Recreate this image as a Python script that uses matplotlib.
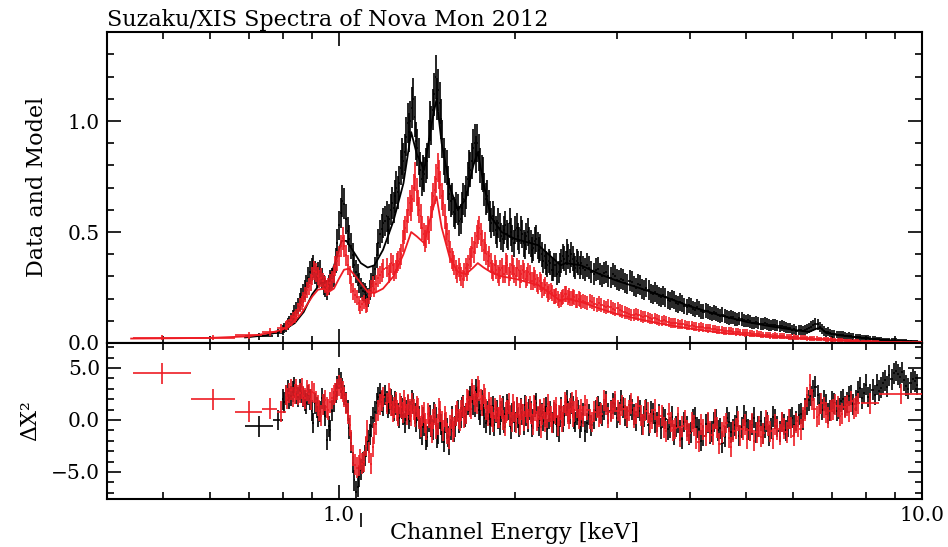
import numpy as np
import matplotlib
matplotlib.use('Agg')
import matplotlib.pyplot as plt

# ---------------- data ----------------
# XIS (black) : low-energy wide bins
fi_lo_e = [0.73, 0.785]
fi_lo_w = [0.04, 0.015]
fi_lo_y = [0.030, 0.045]
fi_lo_r = [-0.6, 0.0]

# XIS (black) spectrum: values at even / odd bins of each energy segment
fi_seg_a = [0.060, 0.072, 0.095, 0.118, 0.150, 0.185, 0.225, 0.262, 0.318, 0.345,
            0.298, 0.322, 0.262, 0.238, 0.282, 0.302, 0.452, 0.585, 0.628, 0.505,
            0.438, 0.352, 0.305, 0.248, 0.228, 0.205, 0.268, 0.335, 0.452, 0.515]
fi_seg_a2 = [0.068, 0.085, 0.104, 0.136, 0.165, 0.208, 0.240, 0.295, 0.330, 0.318,
             0.315, 0.290, 0.250, 0.262, 0.288, 0.372, 0.530, 0.640, 0.560, 0.470,
             0.395, 0.322, 0.270, 0.232, 0.215, 0.238, 0.300, 0.395, 0.490, 0.540]
fi_seg_b = [0.55, 0.51, 0.60, 0.61, 0.70, 0.72, 0.84, 0.86, 0.99, 1.00,
            1.10, 0.91, 0.84, 0.74, 0.76, 0.82, 1.00, 1.05, 1.20, 1.14,
            1.01, 0.84, 0.79, 0.67, 0.65, 0.58, 0.60, 0.56, 0.65, 0.68,
            0.79, 0.82, 0.90, 0.90, 0.80, 0.76, 0.65, 0.62, 0.54, 0.55,
            0.49, 0.52, 0.47, 0.53, 0.48, 0.50, 0.45, 0.52, 0.46, 0.49,
            0.44, 0.50, 0.45, 0.43, 0.47, 0.42, 0.40, 0.39, 0.35, 0.36,
            0.33, 0.35, 0.32, 0.37, 0.38, 0.41, 0.37, 0.38, 0.34, 0.36]
fi_seg_b2 = [0.57, 0.56, 0.63, 0.66, 0.68, 0.79, 0.82, 0.93, 0.95, 1.06,
             1.02, 0.88, 0.78, 0.77, 0.80, 0.92, 0.98, 1.12, 1.10, 1.08,
             0.92, 0.80, 0.72, 0.64, 0.59, 0.61, 0.55, 0.61, 0.64, 0.74,
             0.78, 0.88, 0.85, 0.86, 0.77, 0.69, 0.66, 0.57, 0.57, 0.51,
             0.54, 0.48, 0.51, 0.49, 0.54, 0.47, 0.51, 0.48, 0.51, 0.45,
             0.48, 0.46, 0.42, 0.46, 0.44, 0.43, 0.37, 0.36, 0.37, 0.33,
             0.35, 0.31, 0.35, 0.39, 0.36, 0.39, 0.40, 0.35, 0.37, 0.34]
fi_seg_c = [0.36, 0.33, 0.34, 0.31, 0.335, 0.30, 0.32, 0.295, 0.30, 0.28,
            0.285, 0.265, 0.275, 0.25, 0.26, 0.24, 0.24, 0.22, 0.22, 0.205,
            0.205, 0.19, 0.195, 0.175, 0.18, 0.16, 0.165, 0.15, 0.152, 0.14,
            0.142, 0.13, 0.134, 0.122, 0.123, 0.112, 0.115, 0.105, 0.108, 0.099,
            0.097, 0.09, 0.092, 0.085, 0.086, 0.08, 0.081, 0.075, 0.074, 0.068,
            0.060, 0.056, 0.058, 0.060, 0.068, 0.080, 0.084, 0.062, 0.048, 0.045,
            0.040, 0.036, 0.035, 0.031, 0.030, 0.026, 0.025, 0.022, 0.021, 0.018,
            0.016, 0.015, 0.013, 0.012, 0.011, 0.010, 0.009, 0.008, 0.007, 0.006]
fi_seg_c2 = [0.34, 0.35, 0.32, 0.33, 0.31, 0.315, 0.30, 0.31, 0.285, 0.29,
             0.27, 0.28, 0.255, 0.265, 0.245, 0.25, 0.225, 0.23, 0.21, 0.215,
             0.195, 0.20, 0.18, 0.185, 0.168, 0.172, 0.155, 0.16, 0.143, 0.146,
             0.135, 0.138, 0.126, 0.128, 0.116, 0.118, 0.108, 0.111, 0.102, 0.103,
             0.092, 0.094, 0.087, 0.089, 0.082, 0.083, 0.077, 0.078, 0.071, 0.066,
             0.062, 0.059, 0.055, 0.064, 0.074, 0.086, 0.072, 0.054, 0.050, 0.042,
             0.038, 0.037, 0.033, 0.032, 0.028, 0.027, 0.023, 0.023, 0.019, 0.018,
             0.016, 0.014, 0.013, 0.011, 0.011, 0.009, 0.009, 0.007, 0.0065, 0.0055]

# XIS (black) residuals
fi_res_a = [2.0, 2.4, 2.1, 2.7, 2.5, 2.9, 2.2, 1.6, 2.0, -0.3,
            1.2, 0.8, 1.5, -1.9, -1.0, 1.8, 3.2, 3.6, 2.4, 0.9,
            -2.2, -5.8, -6.4, -4.8, -3.4, -2.0, -0.6, 0.8, 2.2, 1.8]
fi_res_a2 = [1.7, 2.8, 2.3, 3.1, 2.2, 2.6, 1.9, 2.4, 0.9, 1.6,
             0.3, 2.1, 0.4, -0.6, 0.9, 2.6, 4.0, 3.0, 1.7, -0.8,
             -4.1, -6.9, -5.4, -4.1, -2.6, -1.4, 0.2, 1.6, 2.6, 1.4]
fi_res_b = [2.4, 1.2, 2.0, 0.9, 1.5, 0.2, 1.1, -0.3, 1.4, 0.8,
            1.6, -0.2, 0.3, -1.4, -0.5, -1.6, 0.4, -0.9, 0.2, -1.3,
            -0.4, -2.1, -0.8, -2.4, 0.3, -0.6, 0.9, 0.2, 1.4, 0.6,
            1.8, 2.6, 1.3, 2.2, 0.5, 1.4, -0.3, 1.0, 0.4, -0.5,
            0.9, -0.4, 1.3, 0.2, 1.0, -0.8, 0.7, 1.2, -0.6, 0.5,
            1.4, -0.2, 0.8, 0.1, 1.6, -0.5, 0.6, 0.3, -0.9, 0.8,
            -0.3, 0.5, -1.1, 1.2, 0.4, 1.9, 0.6, 1.3, -0.2, 0.9]
fi_res_b2 = [1.8, 1.6, 1.4, 1.8, 0.6, 1.3, 0.5, 0.9, 0.1, 1.9,
             0.6, 0.9, -0.8, 0.2, -1.9, -0.2, -0.6, 0.7, -1.7, 0.1,
             -1.2, -0.3, -1.6, -0.9, -1.1, 0.4, -0.3, 1.2, 0.3, 1.5,
             2.3, 1.5, 2.9, 1.0, 1.9, 0.2, 0.8, -0.4, 1.3, 0.7,
             0.1, 0.8, -0.3, 1.5, 0.3, 0.6, -0.2, 0.2, 1.1, -0.4,
             0.4, 1.0, -0.6, 1.3, 0.2, 0.9, -0.1, 1.2, 0.1, -0.2,
             0.7, -0.6, 0.3, -0.2, 1.4, 0.8, 1.6, 0.1, 0.5, -0.7]
fi_res_c = [-0.2, -1.1, 0.5, 0.1, 1.3, 0.4, 1.8, 0.9, 1.5, 0.7,
            1.2, 0.2, 1.0, -0.1, 0.9, 0.3, -0.5, 0.6, -0.2, -0.8,
            0.1, -0.7, -1.4, -0.3, -1.8, -0.6, -1.2, 0.2, -0.9, -1.5,
            -0.3, -1.1, 0.1, -0.8, -1.6, -0.2, -0.9, 0.3, -0.7, -0.1,
            -1.0, 0.2, -0.6, -1.3, -0.2, -0.8, 0.1, -1.1, -0.4, -0.6,
            0.2, -0.1, 0.6, 1.1, 1.9, 2.8, 2.4, 1.0, 1.5, 0.9,
            1.6, 1.1, 2.0, 1.7, 2.4, 1.9, 3.1, 2.6, 2.2, 2.9,
            3.4, 3.1, 3.8, 4.3, 4.5, 4.4, 4.6, 3.3, 3.6, 3.7]
fi_res_c2 = [0.6, -0.3, -0.5, 0.9, 0.7, 1.0, 0.6, 1.6, 0.2, 1.9,
             0.4, 1.4, 0.5, 1.2, -0.4, 1.0, 0.8, -0.3, 0.5, 0.2,
             -0.9, 0.3, -0.6, -1.0, -0.2, -1.4, 0.1, -0.7, -2.0, -0.4,
             -1.3, -0.2, -1.0, -2.2, 0.2, -1.2, -0.5, -1.5, 0.4, -0.9,
             -0.4, -1.2, -0.1, -0.7, -1.5, 0.3, -0.6, -0.2, -1.0, 0.1,
             -0.5, 0.5, 0.0, 1.5, 2.3, 3.2, 1.6, 1.9, 0.6, 1.8,
             0.9, 1.8, 1.3, 2.3, 1.5, 2.7, 2.1, 3.4, 2.5, 2.4,
             2.8, 3.6, 3.2, 3.9, 4.7, 4.1, 3.8, 3.0, 3.9, 3.4]

# XIS (red) : low- and high-energy wide bins (edges in keV)
bi_lo_edges_lo = [0.443, 0.557, 0.663, 0.738, 0.783]
bi_lo_edges_hi = [0.557, 0.663, 0.738, 0.783, 0.810]
bi_lo_y = [0.024, 0.024, 0.034, 0.050, 0.066]
bi_lo_r = [4.5, 2.0, 0.8, 1.1, 0.8]
bi_hi_edges_lo = [7.85, 8.45]
bi_hi_edges_hi = [8.45, 10.0]
bi_hi_y = [0.0075, 0.004]
bi_hi_r = [1.6, 2.5]

bi_seg_a = [0.078, 0.088, 0.115, 0.128, 0.172, 0.195, 0.238, 0.272, 0.325, 0.302,
            0.295, 0.262, 0.255, 0.285, 0.348, 0.392, 0.472, 0.395, 0.305, 0.232,
            0.205, 0.162, 0.185, 0.172, 0.245, 0.242, 0.295, 0.318]
bi_seg_a2 = [0.082, 0.102, 0.118, 0.152, 0.180, 0.218, 0.255, 0.302, 0.318, 0.288,
             0.278, 0.248, 0.272, 0.310, 0.368, 0.438, 0.435, 0.350, 0.262, 0.215,
             0.178, 0.175, 0.168, 0.210, 0.262, 0.268, 0.305, 0.335]
bi_seg_b = [0.34, 0.32, 0.35, 0.33, 0.37, 0.40, 0.50, 0.55, 0.63, 0.65,
            0.75, 0.63, 0.57, 0.49, 0.48, 0.50, 0.62, 0.69, 0.79, 0.71,
            0.63, 0.52, 0.46, 0.38, 0.35, 0.31, 0.32, 0.29, 0.34, 0.35,
            0.39, 0.41, 0.48, 0.52, 0.46, 0.45, 0.37, 0.36, 0.32, 0.33,
            0.30, 0.34, 0.31, 0.35, 0.32, 0.34, 0.30, 0.33, 0.31, 0.32,
            0.30, 0.31, 0.28, 0.29, 0.26, 0.27, 0.25, 0.24, 0.23, 0.225,
            0.21, 0.20, 0.195, 0.21, 0.22, 0.215, 0.20, 0.205, 0.19, 0.195]
bi_seg_b2 = [0.31, 0.36, 0.32, 0.36, 0.38, 0.46, 0.52, 0.60, 0.61, 0.70,
             0.68, 0.60, 0.52, 0.46, 0.52, 0.56, 0.66, 0.74, 0.76, 0.66,
             0.57, 0.49, 0.41, 0.37, 0.33, 0.34, 0.30, 0.32, 0.32, 0.38,
             0.43, 0.45, 0.50, 0.49, 0.42, 0.40, 0.39, 0.33, 0.35, 0.31,
             0.33, 0.31, 0.36, 0.30, 0.35, 0.31, 0.34, 0.29, 0.33, 0.29,
             0.32, 0.28, 0.30, 0.27, 0.28, 0.24, 0.26, 0.22, 0.235, 0.21,
             0.215, 0.19, 0.205, 0.22, 0.205, 0.20, 0.21, 0.19, 0.20, 0.185]
bi_seg_c = [0.19, 0.18, 0.185, 0.17, 0.172, 0.16, 0.162, 0.15, 0.148, 0.138,
            0.132, 0.125, 0.126, 0.118, 0.115, 0.108, 0.106, 0.100, 0.098, 0.092,
            0.089, 0.084, 0.083, 0.078, 0.076, 0.071, 0.070, 0.066, 0.064, 0.060,
            0.058, 0.054, 0.053, 0.050, 0.048, 0.045, 0.044, 0.041, 0.040, 0.037,
            0.036, 0.033, 0.032, 0.030, 0.029, 0.027, 0.026, 0.024, 0.023, 0.021,
            0.020, 0.018, 0.017, 0.016, 0.015, 0.013, 0.013, 0.012, 0.011, 0.010]
bi_seg_c2 = [0.183, 0.188, 0.175, 0.178, 0.165, 0.168, 0.155, 0.156, 0.142, 0.136,
             0.128, 0.130, 0.121, 0.120, 0.111, 0.112, 0.102, 0.103, 0.095, 0.091,
             0.086, 0.086, 0.080, 0.080, 0.073, 0.074, 0.068, 0.067, 0.062, 0.059,
             0.056, 0.055, 0.051, 0.051, 0.046, 0.046, 0.042, 0.042, 0.038, 0.036,
             0.034, 0.034, 0.031, 0.030, 0.028, 0.027, 0.025, 0.024, 0.022, 0.021,
             0.019, 0.018, 0.016, 0.016, 0.014, 0.014, 0.012, 0.012, 0.010, 0.009]

bi_res_a = [2.4, 2.6, 2.2, 2.9, 2.6, 2.3, 2.8, 2.0, 2.6, 1.4,
            0.4, 1.9, 1.0, 2.1, 2.6, 3.3, 2.7, 1.6, -0.5, -3.4,
            -4.6, -3.8, -4.0, -1.0, -4.2, -1.3, 0.9, 1.9]
bi_res_a2 = [2.1, 2.9, 2.5, 2.4, 3.0, 2.1, 2.5, 2.7, 1.8, 0.9,
             1.5, 1.2, 1.7, 2.4, 2.9, 3.0, 2.2, 0.6, -2.0, -4.3,
             -4.4, -4.2, -2.5, -3.1, -2.6, -0.4, 1.5, 2.2]
bi_res_b = [1.6, 2.1, 0.8, 1.7, 0.4, 1.2, 1.9, 0.5, 1.0, 1.6,
            0.3, 1.1, -0.6, 0.7, -0.9, 0.2, -1.2, 0.5, -0.4, 0.8,
            -1.0, -0.2, -1.8, 0.1, -0.7, 0.8, -0.1, 1.3, 0.6, 1.9,
            1.1, 2.4, 1.6, 2.8, 1.4, 2.1, 0.4, 1.2, -0.2, 0.8,
            0.2, 1.1, -0.5, 0.9, 0.4, 1.5, -0.3, 0.6, 1.0, -0.1,
            0.7, 1.3, -0.4, 0.9, 0.3, -0.7, 1.1, 0.2, 0.8, -0.3,
            0.6, -0.5, 1.0, 0.3, 1.4, 0.1, 1.7, 0.8, 1.2, 0.4]
bi_res_b2 = [2.6, 1.4, 1.2, 0.9, 1.6, 0.7, 1.2, 1.5, 0.4, 1.0,
             1.3, 0.1, 0.4, -0.3, 0.6, -0.5, 0.1, -0.8, 1.1, -0.1,
             0.3, -1.3, -0.5, -1.1, 0.4, 0.1, 0.9, 0.2, 2.0, 1.3,
             2.9, 1.8, 3.2, 2.0, 2.5, 1.0, 1.7, 0.3, 1.1, 0.2,
             1.4, 0.0, 0.7, 1.6, -0.2, 0.8, 1.2, -0.4, 0.5, 1.3,
             0.1, 0.6, 1.4, -0.1, 1.0, 0.5, -0.2, 1.5, 0.3, 0.9,
             1.2, 0.4, -0.2, 1.7, 0.6, 1.1, 0.3, 1.9, 0.1, 1.0]
bi_res_c = [0.3, 1.0, -0.2, 1.2, 0.6, 1.5, 0.8, 1.8, 0.5, 1.1,
            0.9, 0.2, 1.3, -0.4, 0.7, 0.1, -0.6, 0.4, -1.1, -0.2,
            -0.8, -1.6, 0.0, -1.3, -0.5, -2.1, -0.9, -0.2, -1.4, -0.7,
            -1.2, -0.3, -2.6, -0.8, -1.5, -0.4, -1.0, -2.0, -0.6, -1.3,
            -0.5, -1.8, -0.9, -0.2, -1.2, -0.7, -0.3, -0.9, 0.9, 3.4,
            1.1, 0.5, 1.2, 0.2, 1.0, 1.3, 0.6, 1.4, 1.8, 1.3]
bi_res_c2 = [1.4, 0.1, 0.8, 0.3, 1.9, 0.2, 1.1, 0.9, 1.4, 0.3,
             1.6, 0.6, 0.4, 0.9, -0.3, 1.0, 0.3, -0.7, 0.6, -1.0,
             0.2, -0.6, -1.0, -0.2, -1.8, -0.4, -1.5, -1.1, 0.1, -2.3,
             -0.6, -1.7, -1.1, -0.1, -0.9, -1.8, -0.3, -1.2, -1.6, 0.0,
             -1.1, -0.4, -1.4, -0.8, 0.1, -1.5, -0.6, 0.2, 2.2, 2.0,
             0.3, 1.6, 0.7, 0.9, 1.5, 0.4, 1.2, 0.8, 1.1, 1.6]

# stray residual bin drawn below the frame
stray_e = [1.09]
stray_r = [-9.6]

# models
fi_model_e = [0.69, 0.75, 0.80, 0.84, 0.87, 0.90, 0.93, 0.96, 0.99, 1.01, 1.03, 1.06,
              1.09, 1.12, 1.15, 1.19, 1.24, 1.29, 1.33, 1.36, 1.40, 1.44, 1.47, 1.50,
              1.55, 1.60, 1.65, 1.70, 1.73, 1.77, 1.82, 1.90, 2.00, 2.20, 2.40, 2.45,
              2.60, 2.80, 3.00, 3.30, 3.60, 4.00, 4.50, 5.00, 5.50, 6.00, 6.40, 6.60,
              6.70, 6.85, 7.20, 7.80, 8.50, 9.30, 10.0]
fi_model_y = [0.025, 0.035, 0.055, 0.09, 0.14, 0.22, 0.27, 0.28, 0.38, 0.46, 0.46, 0.41,
              0.36, 0.34, 0.35, 0.42, 0.55, 0.72, 0.95, 0.85, 0.78, 0.98, 1.10, 0.90,
              0.70, 0.60, 0.65, 0.80, 0.86, 0.72, 0.57, 0.50, 0.47, 0.44, 0.35, 0.36,
              0.35, 0.31, 0.28, 0.245, 0.21, 0.165, 0.125, 0.095, 0.075, 0.06, 0.05, 0.065,
              0.068, 0.045, 0.035, 0.024, 0.015, 0.009, 0.005]
bi_model_e = [0.44, 0.50, 0.60, 0.70, 0.76, 0.80, 0.83, 0.86, 0.88, 0.90, 0.92, 0.94,
              0.96, 0.98, 1.00, 1.02, 1.04, 1.06, 1.09, 1.12, 1.15, 1.19, 1.24, 1.29,
              1.33, 1.36, 1.40, 1.44, 1.47, 1.50, 1.55, 1.60, 1.65, 1.70, 1.73, 1.77,
              1.82, 1.90, 2.00, 2.20, 2.40, 2.45, 2.60, 2.80, 3.00, 3.30, 3.60, 4.00,
              4.50, 5.00, 5.50, 6.00, 6.60, 6.70, 7.20, 7.80, 8.50, 9.30, 10.0]
bi_model_y = [0.020, 0.021, 0.023, 0.030, 0.045, 0.06, 0.085, 0.13, 0.17, 0.21, 0.24, 0.245,
              0.23, 0.245, 0.29, 0.33, 0.335, 0.31, 0.27, 0.23, 0.225, 0.245, 0.30, 0.40,
              0.50, 0.48, 0.45, 0.58, 0.66, 0.52, 0.38, 0.32, 0.31, 0.34, 0.36, 0.34,
              0.32, 0.30, 0.29, 0.26, 0.19, 0.20, 0.185, 0.155, 0.13, 0.105, 0.085, 0.065,
              0.047, 0.036, 0.028, 0.021, 0.016, 0.016, 0.011, 0.007, 0.004, 0.002, 0.001]

# ---------------- helpers ----------------
def grid(segs):
    return np.concatenate([np.geomspace(a, b, n, endpoint=end) for a, b, n, end in segs])

def inter(a, b):
    return list(np.ravel(np.column_stack([a, b])))

def edges(e):
    e = np.asarray(e)
    mid = np.sqrt(e[:-1] * e[1:])
    lo = np.concatenate([[e[0] ** 2 / mid[0]], mid])
    hi = np.concatenate([mid, [e[-1] ** 2 / mid[-1]]])
    return lo, hi

fi_e = grid([(0.80, 1.20, 60, False), (1.20, 2.60, 140, False), (2.60, 9.8, 160, True)])
fi_y = np.array(inter(fi_seg_a, fi_seg_a2) + inter(fi_seg_b, fi_seg_b2) + inter(fi_seg_c, fi_seg_c2))
fi_r = np.array(inter(fi_res_a, fi_res_a2) + inter(fi_res_b, fi_res_b2) + inter(fi_res_c, fi_res_c2))
fi_lo, fi_hi = edges(fi_e)

bi_e = grid([(0.81, 1.20, 56, False), (1.21, 2.62, 140, False), (2.62, 7.85, 120, False)])
bi_y = np.array(inter(bi_seg_a, bi_seg_a2) + inter(bi_seg_b, bi_seg_b2) + inter(bi_seg_c, bi_seg_c2))
bi_r = np.array(inter(bi_res_a, bi_res_a2) + inter(bi_res_b, bi_res_b2) + inter(bi_res_c, bi_res_c2))
bi_lo, bi_hi = edges(bi_e)

BLACK = '#000000'
RED = '#ee1c24'

plt.rcParams['font.family'] = ['DejaVu Serif']
plt.rcParams['axes.unicode_minus'] = True

fig = plt.figure(figsize=(9.48, 5.47), dpi=100)
L, W = 107 / 948, 815 / 948
ax1 = fig.add_axes([L, 1 - 343 / 547, W, 311 / 547])
ax2 = fig.add_axes([L, 1 - 499 / 547, W, 156 / 547], sharex=ax1)

ekw = dict(fmt='none', elinewidth=1.2, capsize=0)

def draw(ax, e, lo, hi, y, err, color, z):
    e = np.asarray(e)
    ax.errorbar(e, y, xerr=[e - np.asarray(lo), np.asarray(hi) - e], yerr=err,
                ecolor=color, zorder=z, **ekw)

fi_all_e = np.concatenate([fi_lo_e, fi_e])
fi_all_lo = np.concatenate([np.array(fi_lo_e) - np.array(fi_lo_w), fi_lo])
fi_all_hi = np.concatenate([np.array(fi_lo_e) + np.array(fi_lo_w), fi_hi])
fi_all_y = np.concatenate([fi_lo_y, fi_y])
fi_all_r = np.concatenate([fi_lo_r, fi_r])

bi_all_lo = np.concatenate([bi_lo_edges_lo, bi_lo, bi_hi_edges_lo])
bi_all_hi = np.concatenate([bi_lo_edges_hi, bi_hi, bi_hi_edges_hi])
bi_all_e = np.concatenate([np.sqrt(np.array(bi_lo_edges_lo) * np.array(bi_lo_edges_hi)),
                           bi_e,
                           np.sqrt(np.array(bi_hi_edges_lo) * np.array(bi_hi_edges_hi))])
bi_all_y = np.concatenate([bi_lo_y, bi_y, bi_hi_y])
bi_all_r = np.concatenate([bi_lo_r, bi_r, bi_hi_r])

# top panel
draw(ax1, fi_all_e, fi_all_lo, fi_all_hi, fi_all_y, 0.09 * np.sqrt(fi_all_y), BLACK, 2)
ax1.plot(fi_model_e, fi_model_y, color=BLACK, lw=1.3, zorder=3)
draw(ax1, bi_all_e, bi_all_lo, bi_all_hi, bi_all_y, 0.075 * np.sqrt(bi_all_y), RED, 4)
ax1.plot(bi_model_e, bi_model_y, color=RED, lw=1.3, zorder=5)

# bottom panel
draw(ax2, fi_all_e, fi_all_lo, fi_all_hi, fi_all_r, np.ones_like(fi_all_r), BLACK, 2)
draw(ax2, bi_all_e, bi_all_lo, bi_all_hi, bi_all_r, np.ones_like(bi_all_r), RED, 3)
sc = ax2.errorbar(stray_e, stray_r, yerr=0.7, ecolor=BLACK, fmt='none', elinewidth=1.2)
for art in sc.lines[2]:
    art.set_clip_on(False)

ax1.set_xscale('log')
ax1.set_xlim(0.4, 10.0)
ax1.set_ylim(0.0, 1.401)
ax2.set_ylim(-7.6, 7.4)

ax1.set_yticks([0.0, 0.5, 1.0], ['0.0', '0.5', '1.0'])
ax1.set_yticks(np.arange(0.0, 1.41, 0.1), minor=True)
ax2.set_yticks([-5, 0, 5], ['\u22125.0', '0.0', '5.0'])
ax2.set_yticks(np.arange(-7, 8, 1), minor=True)
ax2.set_xticks([1.0, 10.0], ['1.0', '10.0'])
ax2.set_xticks([0.5, 0.6, 0.7, 0.8, 0.9, 2, 3, 4, 5, 6, 7, 8, 9], minor=True)
ax2.xaxis.set_minor_formatter(plt.NullFormatter())
plt.setp(ax1.get_xticklabels(which='both'), visible=False)

for ax in (ax1, ax2):
    for s in ax.spines.values():
        s.set_linewidth(1.5)
    ax.tick_params(which='both', direction='in', top=True, right=True, width=1.2,
                   labelsize=14.5, pad=5)
    ax.tick_params(which='major', length=10)
    ax.tick_params(which='minor', length=5)

fig.text(107 / 948, 1 - 26 / 547, 'Suzaku/XIS Spectra of Nova Mon 2012',
         ha='left', va='baseline', fontsize=16)
fig.text(514 / 948, 1 - 539 / 547, 'Channel Energy [keV]',
         ha='center', va='baseline', fontsize=16)
fig.text(37 / 948, 1 - 187 / 547, 'Data and Model', rotation=90,
         ha='center', va='center', fontsize=16)
fig.text(30 / 948, 1 - 421 / 547, '\u0394X\u00b2', rotation=90,
         ha='center', va='center', fontsize=16)

fig.savefig('out.png', dpi=100)
